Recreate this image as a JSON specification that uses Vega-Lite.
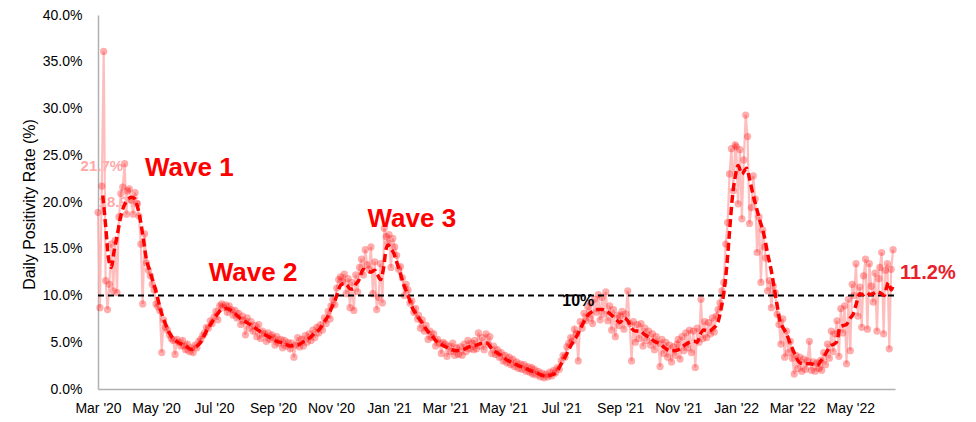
{
  "$schema": "https://vega.github.io/schema/vega-lite/v6.json",
  "width": 797,
  "height": 374,
  "autosize": {"type": "none"},
  "padding": {"left": 98, "top": 15, "right": 81, "bottom": 33},
  "background": "white",
  "config": {"view": {"stroke": null}, "font": "Liberation Sans"},
  "datasets": {
    "daily": [
      {"d":"2020-03-01","v":18.9},{"d":"2020-03-03","v":8.7},{"d":"2020-03-05","v":21.7},{"d":"2020-03-07","v":36.1},{"d":"2020-03-09","v":11.6},{"d":"2020-03-11","v":8.5},{"d":"2020-03-13","v":11.2},{"d":"2020-03-15","v":15.5},{"d":"2020-03-17","v":10.5},{"d":"2020-03-19","v":15.9},{"d":"2020-03-21","v":10.3},{"d":"2020-03-23","v":18.4},{"d":"2020-03-25","v":20.9},{"d":"2020-03-27","v":21.6},{"d":"2020-03-29","v":24.1},{"d":"2020-03-31","v":18.7},
      {"d":"2020-04-01","v":21.2},{"d":"2020-04-03","v":21.4},{"d":"2020-04-05","v":20.2},{"d":"2020-04-07","v":18.7},{"d":"2020-04-09","v":21.0},{"d":"2020-04-11","v":19.8},{"d":"2020-04-13","v":18.5},{"d":"2020-04-15","v":15.5},{"d":"2020-04-17","v":9.1},{"d":"2020-04-19","v":16.6},{"d":"2020-04-21","v":13.5},{"d":"2020-04-23","v":12.7},{"d":"2020-04-25","v":12.1},{"d":"2020-04-27","v":11.2},{"d":"2020-04-29","v":10.6},
      {"d":"2020-05-01","v":9.1},{"d":"2020-05-03","v":8.8},{"d":"2020-05-05","v":8.4},{"d":"2020-05-07","v":3.9},{"d":"2020-05-09","v":7.4},{"d":"2020-05-11","v":6.6},{"d":"2020-05-13","v":6.3},{"d":"2020-05-15","v":5.8},{"d":"2020-05-17","v":5.4},{"d":"2020-05-19","v":5.2},{"d":"2020-05-21","v":3.7},{"d":"2020-05-23","v":5.3},{"d":"2020-05-25","v":5.0},{"d":"2020-05-27","v":4.6},{"d":"2020-05-29","v":5.2},{"d":"2020-05-31","v":4.6},
      {"d":"2020-06-01","v":4.2},{"d":"2020-06-03","v":4.8},{"d":"2020-06-05","v":4.0},{"d":"2020-06-07","v":4.4},{"d":"2020-06-09","v":3.9},{"d":"2020-06-11","v":4.7},{"d":"2020-06-13","v":4.4},{"d":"2020-06-15","v":5.1},{"d":"2020-06-17","v":5.3},{"d":"2020-06-19","v":5.7},{"d":"2020-06-21","v":6.0},{"d":"2020-06-23","v":6.6},{"d":"2020-06-25","v":6.5},{"d":"2020-06-27","v":7.3},{"d":"2020-06-29","v":7.0},
      {"d":"2020-07-01","v":7.7},{"d":"2020-07-03","v":8.3},{"d":"2020-07-05","v":7.4},{"d":"2020-07-07","v":8.9},{"d":"2020-07-09","v":9.1},{"d":"2020-07-11","v":8.7},{"d":"2020-07-13","v":9.0},{"d":"2020-07-15","v":8.2},{"d":"2020-07-17","v":8.9},{"d":"2020-07-19","v":8.5},{"d":"2020-07-21","v":7.9},{"d":"2020-07-23","v":8.4},{"d":"2020-07-25","v":7.6},{"d":"2020-07-27","v":8.1},{"d":"2020-07-29","v":6.9},{"d":"2020-07-31","v":7.8},
      {"d":"2020-08-01","v":7.3},{"d":"2020-08-03","v":5.8},{"d":"2020-08-05","v":7.6},{"d":"2020-08-07","v":6.5},{"d":"2020-08-09","v":7.2},{"d":"2020-08-11","v":6.2},{"d":"2020-08-13","v":6.8},{"d":"2020-08-15","v":5.6},{"d":"2020-08-17","v":6.9},{"d":"2020-08-19","v":5.4},{"d":"2020-08-21","v":6.2},{"d":"2020-08-23","v":5.9},{"d":"2020-08-25","v":5.1},{"d":"2020-08-27","v":6.0},{"d":"2020-08-29","v":5.3},{"d":"2020-08-31","v":5.8},
      {"d":"2020-09-01","v":5.5},{"d":"2020-09-03","v":4.7},{"d":"2020-09-05","v":5.6},{"d":"2020-09-07","v":4.9},{"d":"2020-09-09","v":5.3},{"d":"2020-09-11","v":4.4},{"d":"2020-09-13","v":5.2},{"d":"2020-09-15","v":4.6},{"d":"2020-09-17","v":5.0},{"d":"2020-09-19","v":4.3},{"d":"2020-09-21","v":4.9},{"d":"2020-09-23","v":3.4},{"d":"2020-09-25","v":4.7},{"d":"2020-09-27","v":5.5},{"d":"2020-09-29","v":4.5},
      {"d":"2020-10-01","v":5.3},{"d":"2020-10-03","v":4.6},{"d":"2020-10-05","v":5.7},{"d":"2020-10-07","v":5.0},{"d":"2020-10-09","v":5.9},{"d":"2020-10-11","v":5.2},{"d":"2020-10-13","v":6.3},{"d":"2020-10-15","v":5.5},{"d":"2020-10-17","v":6.6},{"d":"2020-10-19","v":6.0},{"d":"2020-10-21","v":6.9},{"d":"2020-10-23","v":6.3},{"d":"2020-10-25","v":7.6},{"d":"2020-10-27","v":7.0},{"d":"2020-10-29","v":8.3},{"d":"2020-10-31","v":7.5},
      {"d":"2020-11-01","v":8.9},{"d":"2020-11-03","v":9.6},{"d":"2020-11-05","v":9.0},{"d":"2020-11-07","v":10.8},{"d":"2020-11-09","v":11.7},{"d":"2020-11-11","v":12.0},{"d":"2020-11-13","v":11.5},{"d":"2020-11-15","v":12.3},{"d":"2020-11-17","v":10.2},{"d":"2020-11-19","v":11.8},{"d":"2020-11-21","v":8.7},{"d":"2020-11-23","v":11.4},{"d":"2020-11-25","v":8.4},{"d":"2020-11-27","v":12.2},{"d":"2020-11-29","v":10.4},
      {"d":"2020-12-01","v":13.0},{"d":"2020-12-03","v":13.9},{"d":"2020-12-05","v":12.2},{"d":"2020-12-07","v":14.9},{"d":"2020-12-09","v":13.3},{"d":"2020-12-11","v":12.8},{"d":"2020-12-13","v":15.2},{"d":"2020-12-15","v":10.2},{"d":"2020-12-17","v":13.6},{"d":"2020-12-19","v":8.5},{"d":"2020-12-21","v":9.8},{"d":"2020-12-23","v":13.4},{"d":"2020-12-25","v":9.2},{"d":"2020-12-27","v":17.2},{"d":"2020-12-29","v":16.3},{"d":"2020-12-31","v":15.6},
      {"d":"2021-01-01","v":16.5},{"d":"2021-01-03","v":13.0},{"d":"2021-01-05","v":16.1},{"d":"2021-01-07","v":15.2},{"d":"2021-01-09","v":14.3},{"d":"2021-01-11","v":12.8},{"d":"2021-01-13","v":13.1},{"d":"2021-01-15","v":11.9},{"d":"2021-01-17","v":10.0},{"d":"2021-01-19","v":11.2},{"d":"2021-01-21","v":10.6},{"d":"2021-01-23","v":9.2},{"d":"2021-01-25","v":9.4},{"d":"2021-01-27","v":8.2},{"d":"2021-01-29","v":8.6},{"d":"2021-01-31","v":7.5},
      {"d":"2021-02-01","v":7.9},{"d":"2021-02-03","v":6.5},{"d":"2021-02-05","v":7.4},{"d":"2021-02-07","v":6.2},{"d":"2021-02-09","v":6.8},{"d":"2021-02-11","v":5.3},{"d":"2021-02-13","v":6.2},{"d":"2021-02-15","v":5.5},{"d":"2021-02-17","v":5.9},{"d":"2021-02-19","v":4.6},{"d":"2021-02-21","v":5.3},{"d":"2021-02-23","v":4.9},{"d":"2021-02-25","v":3.8},{"d":"2021-02-27","v":5.0},
      {"d":"2021-03-01","v":4.8},{"d":"2021-03-03","v":3.5},{"d":"2021-03-05","v":4.6},{"d":"2021-03-07","v":4.0},{"d":"2021-03-09","v":4.9},{"d":"2021-03-11","v":3.6},{"d":"2021-03-13","v":4.4},{"d":"2021-03-15","v":3.7},{"d":"2021-03-17","v":4.5},{"d":"2021-03-19","v":3.6},{"d":"2021-03-21","v":4.8},{"d":"2021-03-23","v":4.0},{"d":"2021-03-25","v":5.2},{"d":"2021-03-27","v":4.3},{"d":"2021-03-29","v":4.9},{"d":"2021-03-31","v":4.2},
      {"d":"2021-04-01","v":5.2},{"d":"2021-04-03","v":4.3},{"d":"2021-04-05","v":6.0},{"d":"2021-04-07","v":4.6},{"d":"2021-04-09","v":5.5},{"d":"2021-04-11","v":4.2},{"d":"2021-04-13","v":5.9},{"d":"2021-04-15","v":4.8},{"d":"2021-04-17","v":5.6},{"d":"2021-04-19","v":3.8},{"d":"2021-04-21","v":4.6},{"d":"2021-04-23","v":3.7},{"d":"2021-04-25","v":4.2},{"d":"2021-04-27","v":3.4},{"d":"2021-04-29","v":3.9},
      {"d":"2021-05-01","v":3.0},{"d":"2021-05-03","v":3.6},{"d":"2021-05-05","v":2.8},{"d":"2021-05-07","v":3.4},{"d":"2021-05-09","v":2.6},{"d":"2021-05-11","v":3.2},{"d":"2021-05-13","v":2.4},{"d":"2021-05-15","v":2.9},{"d":"2021-05-17","v":2.2},{"d":"2021-05-19","v":2.7},{"d":"2021-05-21","v":2.1},{"d":"2021-05-23","v":2.6},{"d":"2021-05-25","v":1.9},{"d":"2021-05-27","v":2.4},{"d":"2021-05-29","v":1.8},{"d":"2021-05-31","v":2.3},
      {"d":"2021-06-01","v":1.6},{"d":"2021-06-03","v":2.1},{"d":"2021-06-05","v":1.5},{"d":"2021-06-07","v":1.9},{"d":"2021-06-09","v":1.3},{"d":"2021-06-11","v":1.7},{"d":"2021-06-13","v":1.2},{"d":"2021-06-15","v":1.6},{"d":"2021-06-17","v":1.3},{"d":"2021-06-19","v":1.8},{"d":"2021-06-21","v":1.4},{"d":"2021-06-23","v":2.0},{"d":"2021-06-25","v":1.7},{"d":"2021-06-27","v":2.3},{"d":"2021-06-29","v":2.1},
      {"d":"2021-07-01","v":3.0},{"d":"2021-07-03","v":3.6},{"d":"2021-07-05","v":3.4},{"d":"2021-07-07","v":4.5},{"d":"2021-07-09","v":4.9},{"d":"2021-07-11","v":5.5},{"d":"2021-07-13","v":5.1},{"d":"2021-07-15","v":6.4},{"d":"2021-07-17","v":5.9},{"d":"2021-07-19","v":3.0},{"d":"2021-07-21","v":7.2},{"d":"2021-07-23","v":6.5},{"d":"2021-07-25","v":8.1},{"d":"2021-07-27","v":7.3},{"d":"2021-07-29","v":8.8},{"d":"2021-07-31","v":7.6},
      {"d":"2021-08-01","v":9.2},{"d":"2021-08-03","v":7.0},{"d":"2021-08-05","v":9.6},{"d":"2021-08-07","v":8.2},{"d":"2021-08-09","v":10.1},{"d":"2021-08-11","v":7.4},{"d":"2021-08-13","v":9.8},{"d":"2021-08-15","v":8.0},{"d":"2021-08-17","v":10.4},{"d":"2021-08-19","v":7.3},{"d":"2021-08-21","v":8.9},{"d":"2021-08-23","v":6.3},{"d":"2021-08-25","v":8.5},{"d":"2021-08-27","v":5.6},{"d":"2021-08-29","v":7.9},{"d":"2021-08-31","v":6.8},
      {"d":"2021-09-01","v":7.8},{"d":"2021-09-03","v":8.3},{"d":"2021-09-05","v":6.4},{"d":"2021-09-07","v":8.0},{"d":"2021-09-09","v":10.5},{"d":"2021-09-11","v":7.0},{"d":"2021-09-13","v":3.0},{"d":"2021-09-15","v":7.2},{"d":"2021-09-17","v":5.0},{"d":"2021-09-19","v":6.9},{"d":"2021-09-21","v":5.4},{"d":"2021-09-23","v":7.0},{"d":"2021-09-25","v":4.6},{"d":"2021-09-27","v":6.5},{"d":"2021-09-29","v":5.2},
      {"d":"2021-10-01","v":6.2},{"d":"2021-10-03","v":4.7},{"d":"2021-10-05","v":5.9},{"d":"2021-10-07","v":4.2},{"d":"2021-10-09","v":5.6},{"d":"2021-10-11","v":4.9},{"d":"2021-10-13","v":2.4},{"d":"2021-10-15","v":5.3},{"d":"2021-10-17","v":3.8},{"d":"2021-10-19","v":5.0},{"d":"2021-10-21","v":3.4},{"d":"2021-10-23","v":4.7},{"d":"2021-10-25","v":2.9},{"d":"2021-10-27","v":4.5},{"d":"2021-10-29","v":3.6},{"d":"2021-10-31","v":4.8},
      {"d":"2021-11-01","v":5.3},{"d":"2021-11-03","v":3.2},{"d":"2021-11-05","v":5.6},{"d":"2021-11-07","v":4.1},{"d":"2021-11-09","v":6.0},{"d":"2021-11-11","v":4.4},{"d":"2021-11-13","v":6.3},{"d":"2021-11-15","v":3.9},{"d":"2021-11-17","v":6.2},{"d":"2021-11-19","v":2.3},{"d":"2021-11-21","v":6.5},{"d":"2021-11-23","v":5.0},{"d":"2021-11-25","v":9.6},{"d":"2021-11-27","v":5.4},{"d":"2021-11-29","v":7.2},
      {"d":"2021-12-01","v":5.5},{"d":"2021-12-03","v":7.1},{"d":"2021-12-05","v":5.9},{"d":"2021-12-07","v":7.6},{"d":"2021-12-09","v":6.1},{"d":"2021-12-11","v":7.8},{"d":"2021-12-13","v":8.5},{"d":"2021-12-15","v":9.2},{"d":"2021-12-17","v":10.5},{"d":"2021-12-19","v":11.4},{"d":"2021-12-21","v":15.5},{"d":"2021-12-23","v":17.8},{"d":"2021-12-25","v":23.0},{"d":"2021-12-27","v":25.7},{"d":"2021-12-29","v":21.2},{"d":"2021-12-31","v":26.1},
      {"d":"2022-01-01","v":25.9},{"d":"2022-01-03","v":19.8},{"d":"2022-01-05","v":25.6},{"d":"2022-01-07","v":18.2},{"d":"2022-01-09","v":24.5},{"d":"2022-01-11","v":29.3},{"d":"2022-01-13","v":27.0},{"d":"2022-01-15","v":17.7},{"d":"2022-01-17","v":19.4},{"d":"2022-01-19","v":22.8},{"d":"2022-01-21","v":20.3},{"d":"2022-01-23","v":14.6},{"d":"2022-01-25","v":18.4},{"d":"2022-01-27","v":11.4},{"d":"2022-01-29","v":17.0},{"d":"2022-01-31","v":15.2},
      {"d":"2022-02-01","v":14.0},{"d":"2022-02-03","v":10.5},{"d":"2022-02-05","v":11.6},{"d":"2022-02-07","v":8.7},{"d":"2022-02-09","v":11.0},{"d":"2022-02-11","v":10.3},{"d":"2022-02-13","v":8.0},{"d":"2022-02-15","v":6.9},{"d":"2022-02-17","v":4.8},{"d":"2022-02-19","v":7.5},{"d":"2022-02-21","v":3.4},{"d":"2022-02-23","v":6.2},{"d":"2022-02-25","v":3.9},{"d":"2022-02-27","v":5.1},
      {"d":"2022-03-01","v":3.3},{"d":"2022-03-03","v":1.6},{"d":"2022-03-05","v":3.6},{"d":"2022-03-07","v":2.2},{"d":"2022-03-09","v":3.4},{"d":"2022-03-11","v":1.9},{"d":"2022-03-13","v":3.2},{"d":"2022-03-15","v":2.1},{"d":"2022-03-17","v":3.0},{"d":"2022-03-19","v":5.1},{"d":"2022-03-21","v":2.0},{"d":"2022-03-23","v":2.9},{"d":"2022-03-25","v":1.9},{"d":"2022-03-27","v":2.8},{"d":"2022-03-29","v":2.2},{"d":"2022-03-31","v":3.1},
      {"d":"2022-04-01","v":2.0},{"d":"2022-04-03","v":3.9},{"d":"2022-04-05","v":2.6},{"d":"2022-04-07","v":4.8},{"d":"2022-04-09","v":3.3},{"d":"2022-04-11","v":6.2},{"d":"2022-04-13","v":4.0},{"d":"2022-04-15","v":5.9},{"d":"2022-04-17","v":7.3},{"d":"2022-04-19","v":3.5},{"d":"2022-04-21","v":8.6},{"d":"2022-04-23","v":6.0},{"d":"2022-04-25","v":8.9},{"d":"2022-04-27","v":2.7},{"d":"2022-04-29","v":9.6},
      {"d":"2022-05-01","v":4.1},{"d":"2022-05-03","v":11.2},{"d":"2022-05-05","v":10.0},{"d":"2022-05-07","v":13.4},{"d":"2022-05-09","v":7.8},{"d":"2022-05-11","v":10.9},{"d":"2022-05-13","v":6.6},{"d":"2022-05-15","v":12.1},{"d":"2022-05-17","v":13.9},{"d":"2022-05-19","v":6.4},{"d":"2022-05-21","v":13.4},{"d":"2022-05-23","v":11.0},{"d":"2022-05-25","v":9.3},{"d":"2022-05-27","v":12.4},{"d":"2022-05-29","v":6.2},{"d":"2022-05-31","v":11.8},
      {"d":"2022-06-01","v":13.0},{"d":"2022-06-03","v":14.6},{"d":"2022-06-05","v":5.9},{"d":"2022-06-07","v":12.7},{"d":"2022-06-09","v":13.4},{"d":"2022-06-11","v":4.3},{"d":"2022-06-13","v":12.8},{"d":"2022-06-15","v":14.9}
    ],
    "avg": [
      {"d":"2020-03-06","v":20.7},{"d":"2020-03-09","v":17.5},{"d":"2020-03-12","v":14.0},{"d":"2020-03-15","v":13.0},{"d":"2020-03-18","v":14.8},{"d":"2020-03-21","v":16.3},{"d":"2020-03-25","v":18.5},{"d":"2020-03-28","v":19.5},
      {"d":"2020-04-01","v":20.2},{"d":"2020-04-05","v":20.5},{"d":"2020-04-08","v":20.4},{"d":"2020-04-12","v":19.3},{"d":"2020-04-15","v":17.8},{"d":"2020-04-18","v":15.8},{"d":"2020-04-21","v":13.8},{"d":"2020-04-24","v":12.8},{"d":"2020-04-27","v":11.8},{"d":"2020-04-30","v":10.8},
      {"d":"2020-05-03","v":9.6},{"d":"2020-05-06","v":8.4},{"d":"2020-05-10","v":7.2},{"d":"2020-05-15","v":6.0},{"d":"2020-05-20","v":5.3},{"d":"2020-05-26","v":4.9},
      {"d":"2020-06-01","v":4.6},{"d":"2020-06-07","v":4.25},{"d":"2020-06-12","v":4.5},{"d":"2020-06-17","v":5.0},{"d":"2020-06-23","v":6.2},{"d":"2020-06-28","v":7.0},
      {"d":"2020-07-03","v":7.8},{"d":"2020-07-09","v":8.5},{"d":"2020-07-14","v":8.6},{"d":"2020-07-19","v":8.4},{"d":"2020-07-28","v":7.6},
      {"d":"2020-08-03","v":7.2},{"d":"2020-08-08","v":6.9},{"d":"2020-08-15","v":6.4},{"d":"2020-08-22","v":5.9},{"d":"2020-08-29","v":5.5},
      {"d":"2020-09-05","v":5.1},{"d":"2020-09-12","v":4.9},{"d":"2020-09-19","v":4.6},{"d":"2020-09-24","v":4.7},{"d":"2020-09-29","v":4.8},
      {"d":"2020-10-05","v":5.2},{"d":"2020-10-10","v":5.5},{"d":"2020-10-15","v":6.0},{"d":"2020-10-20","v":6.4},{"d":"2020-10-25","v":7.2},{"d":"2020-10-29","v":7.8},
      {"d":"2020-11-02","v":8.8},{"d":"2020-11-05","v":9.4},{"d":"2020-11-08","v":10.3},{"d":"2020-11-11","v":11.1},{"d":"2020-11-15","v":11.3},{"d":"2020-11-18","v":11.1},{"d":"2020-11-21","v":10.7},{"d":"2020-11-24","v":10.7},{"d":"2020-11-27","v":11.2},{"d":"2020-11-30","v":11.6},
      {"d":"2020-12-05","v":12.8},{"d":"2020-12-09","v":12.6},{"d":"2020-12-13","v":12.5},{"d":"2020-12-17","v":12.7},{"d":"2020-12-20","v":12.2},{"d":"2020-12-23","v":11.7},{"d":"2020-12-26","v":12.8},{"d":"2020-12-29","v":15.0},{"d":"2020-12-31","v":15.4},
      {"d":"2021-01-03","v":15.0},{"d":"2021-01-06","v":14.5},{"d":"2021-01-09","v":13.6},{"d":"2021-01-13","v":12.3},{"d":"2021-01-17","v":11.0},{"d":"2021-01-21","v":10.0},{"d":"2021-01-25","v":8.8},{"d":"2021-01-30","v":7.9},
      {"d":"2021-02-04","v":7.2},{"d":"2021-02-09","v":6.4},{"d":"2021-02-14","v":5.8},{"d":"2021-02-19","v":5.2},{"d":"2021-02-24","v":4.8},
      {"d":"2021-03-02","v":4.5},{"d":"2021-03-08","v":4.2},{"d":"2021-03-14","v":4.1},{"d":"2021-03-20","v":4.2},{"d":"2021-03-26","v":4.5},
      {"d":"2021-04-03","v":4.7},{"d":"2021-04-09","v":4.9},{"d":"2021-04-14","v":4.9},{"d":"2021-04-19","v":4.3},{"d":"2021-04-24","v":3.9},{"d":"2021-04-29","v":3.6},
      {"d":"2021-05-05","v":3.1},{"d":"2021-05-11","v":2.8},{"d":"2021-05-17","v":2.5},{"d":"2021-05-23","v":2.3},{"d":"2021-05-29","v":2.0},
      {"d":"2021-06-04","v":1.8},{"d":"2021-06-10","v":1.5},{"d":"2021-06-16","v":1.4},{"d":"2021-06-21","v":1.5},{"d":"2021-06-26","v":1.8},{"d":"2021-06-30","v":2.5},
      {"d":"2021-07-04","v":3.2},{"d":"2021-07-08","v":4.0},{"d":"2021-07-12","v":4.8},{"d":"2021-07-17","v":5.6},{"d":"2021-07-21","v":6.4},{"d":"2021-07-25","v":7.2},{"d":"2021-07-29","v":7.9},
      {"d":"2021-08-03","v":8.3},{"d":"2021-08-08","v":8.5},{"d":"2021-08-13","v":8.5},{"d":"2021-08-18","v":8.3},{"d":"2021-08-23","v":7.9},{"d":"2021-08-28","v":7.4},
      {"d":"2021-09-01","v":7.1},{"d":"2021-09-05","v":7.6},{"d":"2021-09-09","v":7.3},{"d":"2021-09-13","v":6.5},{"d":"2021-09-17","v":6.2},{"d":"2021-09-22","v":6.2},{"d":"2021-09-27","v":5.8},
      {"d":"2021-10-02","v":5.5},{"d":"2021-10-07","v":5.1},{"d":"2021-10-13","v":4.8},{"d":"2021-10-18","v":4.4},{"d":"2021-10-23","v":4.1},{"d":"2021-10-28","v":4.1},
      {"d":"2021-11-03","v":4.3},{"d":"2021-11-08","v":4.7},{"d":"2021-11-13","v":5.0},{"d":"2021-11-18","v":5.1},{"d":"2021-11-21","v":5.0},{"d":"2021-11-24","v":5.8},{"d":"2021-11-28","v":6.3},
      {"d":"2021-12-03","v":6.2},{"d":"2021-12-08","v":6.5},{"d":"2021-12-13","v":7.2},{"d":"2021-12-16","v":8.5},{"d":"2021-12-19","v":10.3},{"d":"2021-12-22","v":13.0},{"d":"2021-12-25","v":16.8},{"d":"2021-12-28","v":20.5},{"d":"2021-12-31","v":22.7},
      {"d":"2022-01-03","v":23.9},{"d":"2022-01-07","v":23.0},{"d":"2022-01-10","v":23.4},{"d":"2022-01-12","v":23.6},{"d":"2022-01-15","v":22.5},{"d":"2022-01-18","v":21.1},{"d":"2022-01-22","v":19.5},{"d":"2022-01-26","v":18.0},{"d":"2022-01-30","v":16.6},
      {"d":"2022-02-03","v":14.5},{"d":"2022-02-07","v":12.6},{"d":"2022-02-10","v":10.8},{"d":"2022-02-13","v":9.0},{"d":"2022-02-16","v":7.3},{"d":"2022-02-19","v":6.6},{"d":"2022-02-23","v":5.9},{"d":"2022-02-27","v":4.8},
      {"d":"2022-03-02","v":4.1},{"d":"2022-03-06","v":3.2},{"d":"2022-03-09","v":2.8},{"d":"2022-03-14","v":2.7},{"d":"2022-03-20","v":2.7},{"d":"2022-03-27","v":2.5},{"d":"2022-03-31","v":3.0},
      {"d":"2022-04-03","v":3.4},{"d":"2022-04-07","v":4.1},{"d":"2022-04-10","v":4.6},{"d":"2022-04-14","v":4.8},{"d":"2022-04-17","v":5.1},{"d":"2022-04-20","v":6.6},{"d":"2022-04-24","v":6.8},{"d":"2022-04-27","v":6.9},
      {"d":"2022-05-01","v":7.6},{"d":"2022-05-04","v":8.0},{"d":"2022-05-07","v":9.0},{"d":"2022-05-11","v":10.2},{"d":"2022-05-15","v":10.1},{"d":"2022-05-18","v":10.3},{"d":"2022-05-22","v":10.1},{"d":"2022-05-25","v":10.2},{"d":"2022-05-29","v":10.4},
      {"d":"2022-06-01","v":10.3},{"d":"2022-06-04","v":10.1},{"d":"2022-06-06","v":10.0},{"d":"2022-06-08","v":10.8},{"d":"2022-06-10","v":11.4},{"d":"2022-06-13","v":10.6},{"d":"2022-06-15","v":11.1}
    ],
    "ref": [{"d":"2020-03-01","d2":"2022-06-17","v":10}],
    "notes": [
      {"d":"2020-03-05","v":23.8,"t":"21.7%","k":"p"},
      {"d":"2020-03-24","v":20.0,"t":"18.9%","k":"p"},
      {"d":"2020-06-05","v":23.6,"t":"Wave 1","k":"w"},
      {"d":"2020-08-11","v":12.4,"t":"Wave 2","k":"w"},
      {"d":"2021-01-25","v":18.2,"t":"Wave 3","k":"w"},
      {"d":"2021-07-19","v":9.45,"t":"10%","k":"b"},
      {"d":"2022-06-15","v":12.4,"t":"11.2%","k":"e"}
    ]
  },
  "encoding": {
    "x": {
      "field": "d",
      "type": "temporal",
      "scale": {
        "type": "utc",
        "domain": [
          {"year": 2020, "month": 3, "date": 1, "utc": true},
          {"year": 2022, "month": 6, "date": 17, "utc": true}
        ]
      },
      "axis": {
        "title": null,
        "tickCount": {"interval": "month", "step": 2},
        "labelExpr": "utcFormat(datum.value, '%b \\'%y')",
        "ticks": false,
        "tickSize": 0,
        "grid": false,
        "domainColor": "#b0b0b0",
        "domainWidth": 1.5,
        "labelFont": "Liberation Sans",
        "labelFontSize": 14,
        "labelColor": "#000000",
        "labelPadding": 12,
        "labelFlush": false,
        "labelOverlap": false
      }
    },
    "y": {
      "field": "v",
      "type": "quantitative",
      "scale": {"domain": [0, 40], "nice": false, "zero": true},
      "axis": {
        "title": "Daily Positivity Rate (%)",
        "values": [0, 5, 10, 15, 20, 25, 30, 35, 40],
        "labelExpr": "format(datum.value, '.1f') + '%'",
        "ticks": false,
        "tickSize": 0,
        "grid": false,
        "domainColor": "#b0b0b0",
        "domainWidth": 1.5,
        "labelFont": "Liberation Sans",
        "labelFontSize": 14,
        "labelColor": "#000000",
        "labelPadding": 16,
        "titleFont": "Liberation Sans",
        "titleFontSize": 16,
        "titleFontWeight": "normal",
        "titleColor": "#000000",
        "titleX": -69,
        "titleY": 189,
        "titleAngle": -90,
        "titleAlign": "center",
        "titleBaseline": "middle"
      }
    }
  },
  "layer": [
    {
      "data": {"name": "notes"},
      "transform": [{"filter": "datum.k == 'p'"}],
      "mark": {"type": "text", "font": "Liberation Sans", "fontSize": 15, "fontWeight": "bold", "color": "#ffa8a8", "align": "center", "baseline": "middle"},
      "encoding": {"text": {"field": "t"}}
    },
    {
      "data": {"name": "daily"},
      "mark": {"type": "line", "color": "#ffb3b3", "strokeWidth": 2.2, "opacity": 0.85},
      "encoding": {}
    },
    {
      "data": {"name": "daily"},
      "mark": {"type": "circle", "color": "#ff0000", "opacity": 0.32, "size": 52},
      "encoding": {}
    },
    {
      "data": {"name": "ref"},
      "mark": {"type": "rule", "color": "#000000", "strokeWidth": 1.8, "strokeDash": [6, 4]},
      "encoding": {"x2": {"field": "d2"}}
    },
    {
      "data": {"name": "avg"},
      "mark": {"type": "line", "color": "#ff0000", "strokeWidth": 3.5, "strokeDash": [8, 4], "interpolate": "monotone"},
      "encoding": {}
    },
    {
      "data": {"name": "notes"},
      "transform": [{"filter": "datum.k == 'w'"}],
      "mark": {"type": "text", "font": "Liberation Sans", "fontSize": 26, "fontWeight": "bold", "color": "#ff0000", "align": "center", "baseline": "middle"},
      "encoding": {"text": {"field": "t"}}
    },
    {
      "data": {"name": "notes"},
      "transform": [{"filter": "datum.k == 'b'"}],
      "mark": {"type": "text", "font": "Liberation Sans", "fontSize": 16, "fontWeight": "bold", "color": "#000000", "align": "center", "baseline": "middle"},
      "encoding": {"text": {"field": "t"}}
    },
    {
      "data": {"name": "notes"},
      "transform": [{"filter": "datum.k == 'e'"}],
      "mark": {"type": "text", "font": "Liberation Sans", "fontSize": 20, "fontWeight": "bold", "color": "#e8202a", "align": "left", "baseline": "middle", "dx": 7},
      "encoding": {"text": {"field": "t"}}
    }
  ]
}
